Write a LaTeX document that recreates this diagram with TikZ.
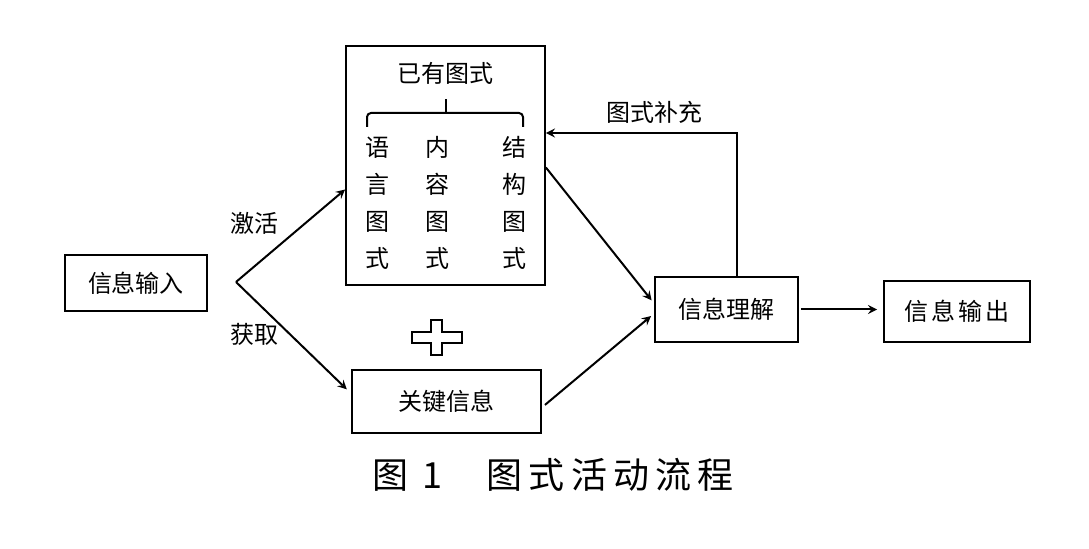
\documentclass[tikz,border=0pt]{standalone}
\usepackage{fontspec}
\usepackage{tikz}
\usetikzlibrary{arrows, positioning}
\newfontfamily\cjk{Noto Sans CJK SC}
\newfontfamily\cjkwide[LetterSpace=12]{Noto Sans CJK SC}
\newfontfamily\cjkcap[LetterSpace=17]{Noto Sans CJK SC}

\begin{document}
\begin{tikzpicture}[x=0.5pt, y=-0.5pt,
    box/.style={draw, line width=0.9pt, inner sep=0pt, font=\cjk\fontsize{12}{14}\selectfont},
    lbl/.style={font=\cjk\fontsize{12}{14}\selectfont},
    col/.style={align=center, font=\cjk\fontsize{12}{18.5}\selectfont},
    conn/.style={-stealth, line width=1pt}]
    \useasboundingbox (0,0) rectangle (1089,549);
    \node (input) at (136,283) [box, minimum width=71pt, minimum height=28pt] {信息输入};
    \coordinate (split) at (236,282);
    \node (schema) at (445.5,165.5) [box, minimum width=99.5pt, minimum height=119.5pt] {};
    \node (title) at (445,73) [lbl] {已有图式};
    % brace over the three columns
    \draw [line width=1pt, rounded corners=2pt] (367,127) -- (367,113) -- (523,113) -- (523,127);
    \draw [line width=1pt] (446,113) -- (446,99);
    \node (yuyan) at (377,203) [col] {语\\言\\图\\式};
    \node (neirong) at (437,203) [col] {内\\容\\图\\式};
    \node (jiegou) at (514,203) [col] {结\\构\\图\\式};
    \node (key) at (446.5,401.5) [box, minimum width=94.5pt, minimum height=31.5pt] {关键信息};
    \node (lijie) at (726.5,309.5) [box, minimum width=71.5pt, minimum height=32.5pt] {信息理解};
    \node (output) at (957,311.5) [box, minimum width=73pt, minimum height=30.5pt, font=\cjkwide\fontsize{12}{14}\selectfont] {信息输出};
    % plus sign between the two inputs
    \draw [line width=0.9pt] (431,320) -- (442,320) -- (442,332) -- (462,332) -- (462,343) -- (442,343)
        -- (442,355) -- (431,355) -- (431,343) -- (412,343) -- (412,332) -- (431,332) -- cycle;
    \draw [conn] (split) -- ([yshift=-12pt]schema.west);
    \node (jihuo) at (254,223) [lbl] {激活};
    \draw [conn, shorten >=3pt] (split) -- ([yshift=4pt]key.west);
    \node (huoqu) at (254,334) [lbl] {获取};
    \draw [conn, shorten >=2pt] ([yshift=-1pt]schema.east) -- ([yshift=3pt]lijie.west);
    \draw [conn, shorten <=2pt, shorten >=2pt] ([yshift=-3pt]key.east) -- ([yshift=-2pt]lijie.west);
    \draw [conn, shorten <=1pt, shorten >=3pt] (lijie.east) -- (output.west |- lijie.east);
    \coordinate (fb) at (737,133);
    \draw [conn] (lijie.north -| fb) -- (fb) -- (schema.east |- fb);
    \node (buchong) at (654,112) [lbl] {图式补充};
    \node (caption) at (553,475) [font=\cjkcap\fontsize{18}{20}\selectfont] {图 1\hspace{22pt}图式活动流程};
\end{tikzpicture}
\end{document}
